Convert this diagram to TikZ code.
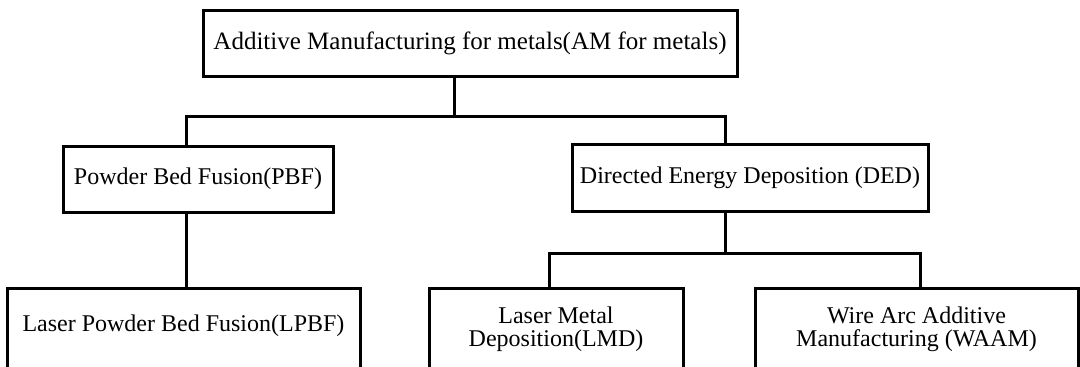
\documentclass[tikz,border=0pt]{standalone}
\usepackage{fontspec}
\setmainfont{Liberation Serif}
\begin{document}
\begin{tikzpicture}[x=1pt,y=-1pt,
  box/.style={draw=black,line width=3pt,inner sep=0pt,outer sep=0pt,
    align=center,font=\fontsize{24}{24}\selectfont},
  link/.style={draw=black,line width=3pt}]
\useasboundingbox (0,0) rectangle (1080,367);

% top level
\node[box,minimum width=534pt,minimum height=66pt,
      font=\fontsize{25}{24}\selectfont] (am) at (470,43)
  {Additive Manufacturing for metals(AM for metals)};

% second level
\node[box,minimum width=270pt,minimum height=66pt] (pbf) at (198,179)
  {Powder Bed Fusion(PBF)};
\node[box,minimum width=356pt,minimum height=67pt] (ded) at (750,177.5)
  {\raisebox{-2pt}{Directed Energy Deposition (DED)}};

% third level (boxes run past the lower edge)
\node[box,minimum width=353pt,minimum height=84pt] (lpbf) at (183.5,330)
  {\raisebox{13pt}{Laser Powder Bed Fusion(LPBF)}};
\node[box,minimum width=254pt,minimum height=84pt] (lmd) at (556,330)
  {\raisebox{13pt}{\begin{tabular}{@{}c@{}}Laser Metal\\[-1pt]Deposition(LMD)\end{tabular}}};
\node[box,minimum width=323pt,minimum height=84pt] (waam) at (916.5,330)
  {\raisebox{13pt}{\begin{tabular}{@{}c@{}}Wire Arc Additive\\[-1pt]Manufacturing (WAAM)\end{tabular}}};

% bus junctions
\coordinate (b1l) at (186,116);
\coordinate (b1m) at (454,116);
\coordinate (b1r) at (725,116);
\coordinate (b2l) at (549,253);
\coordinate (b2m) at (725,253);
\coordinate (b2r) at (920,253);

% connectors
\draw[link] (am.south -| b1m) -- (b1m);
\draw[link] (pbf.north -| b1l) -- (b1l) -- (b1r) -- (ded.north -| b1r);
\draw[link] (pbf.south -| b1l) -- (lpbf.north -| b1l);
\draw[link] (ded.south -| b2m) -- (b2m);
\draw[link] (lmd.north -| b2l) -- (b2l) -- (b2r) -- (waam.north -| b2r);
\end{tikzpicture}
\end{document}
